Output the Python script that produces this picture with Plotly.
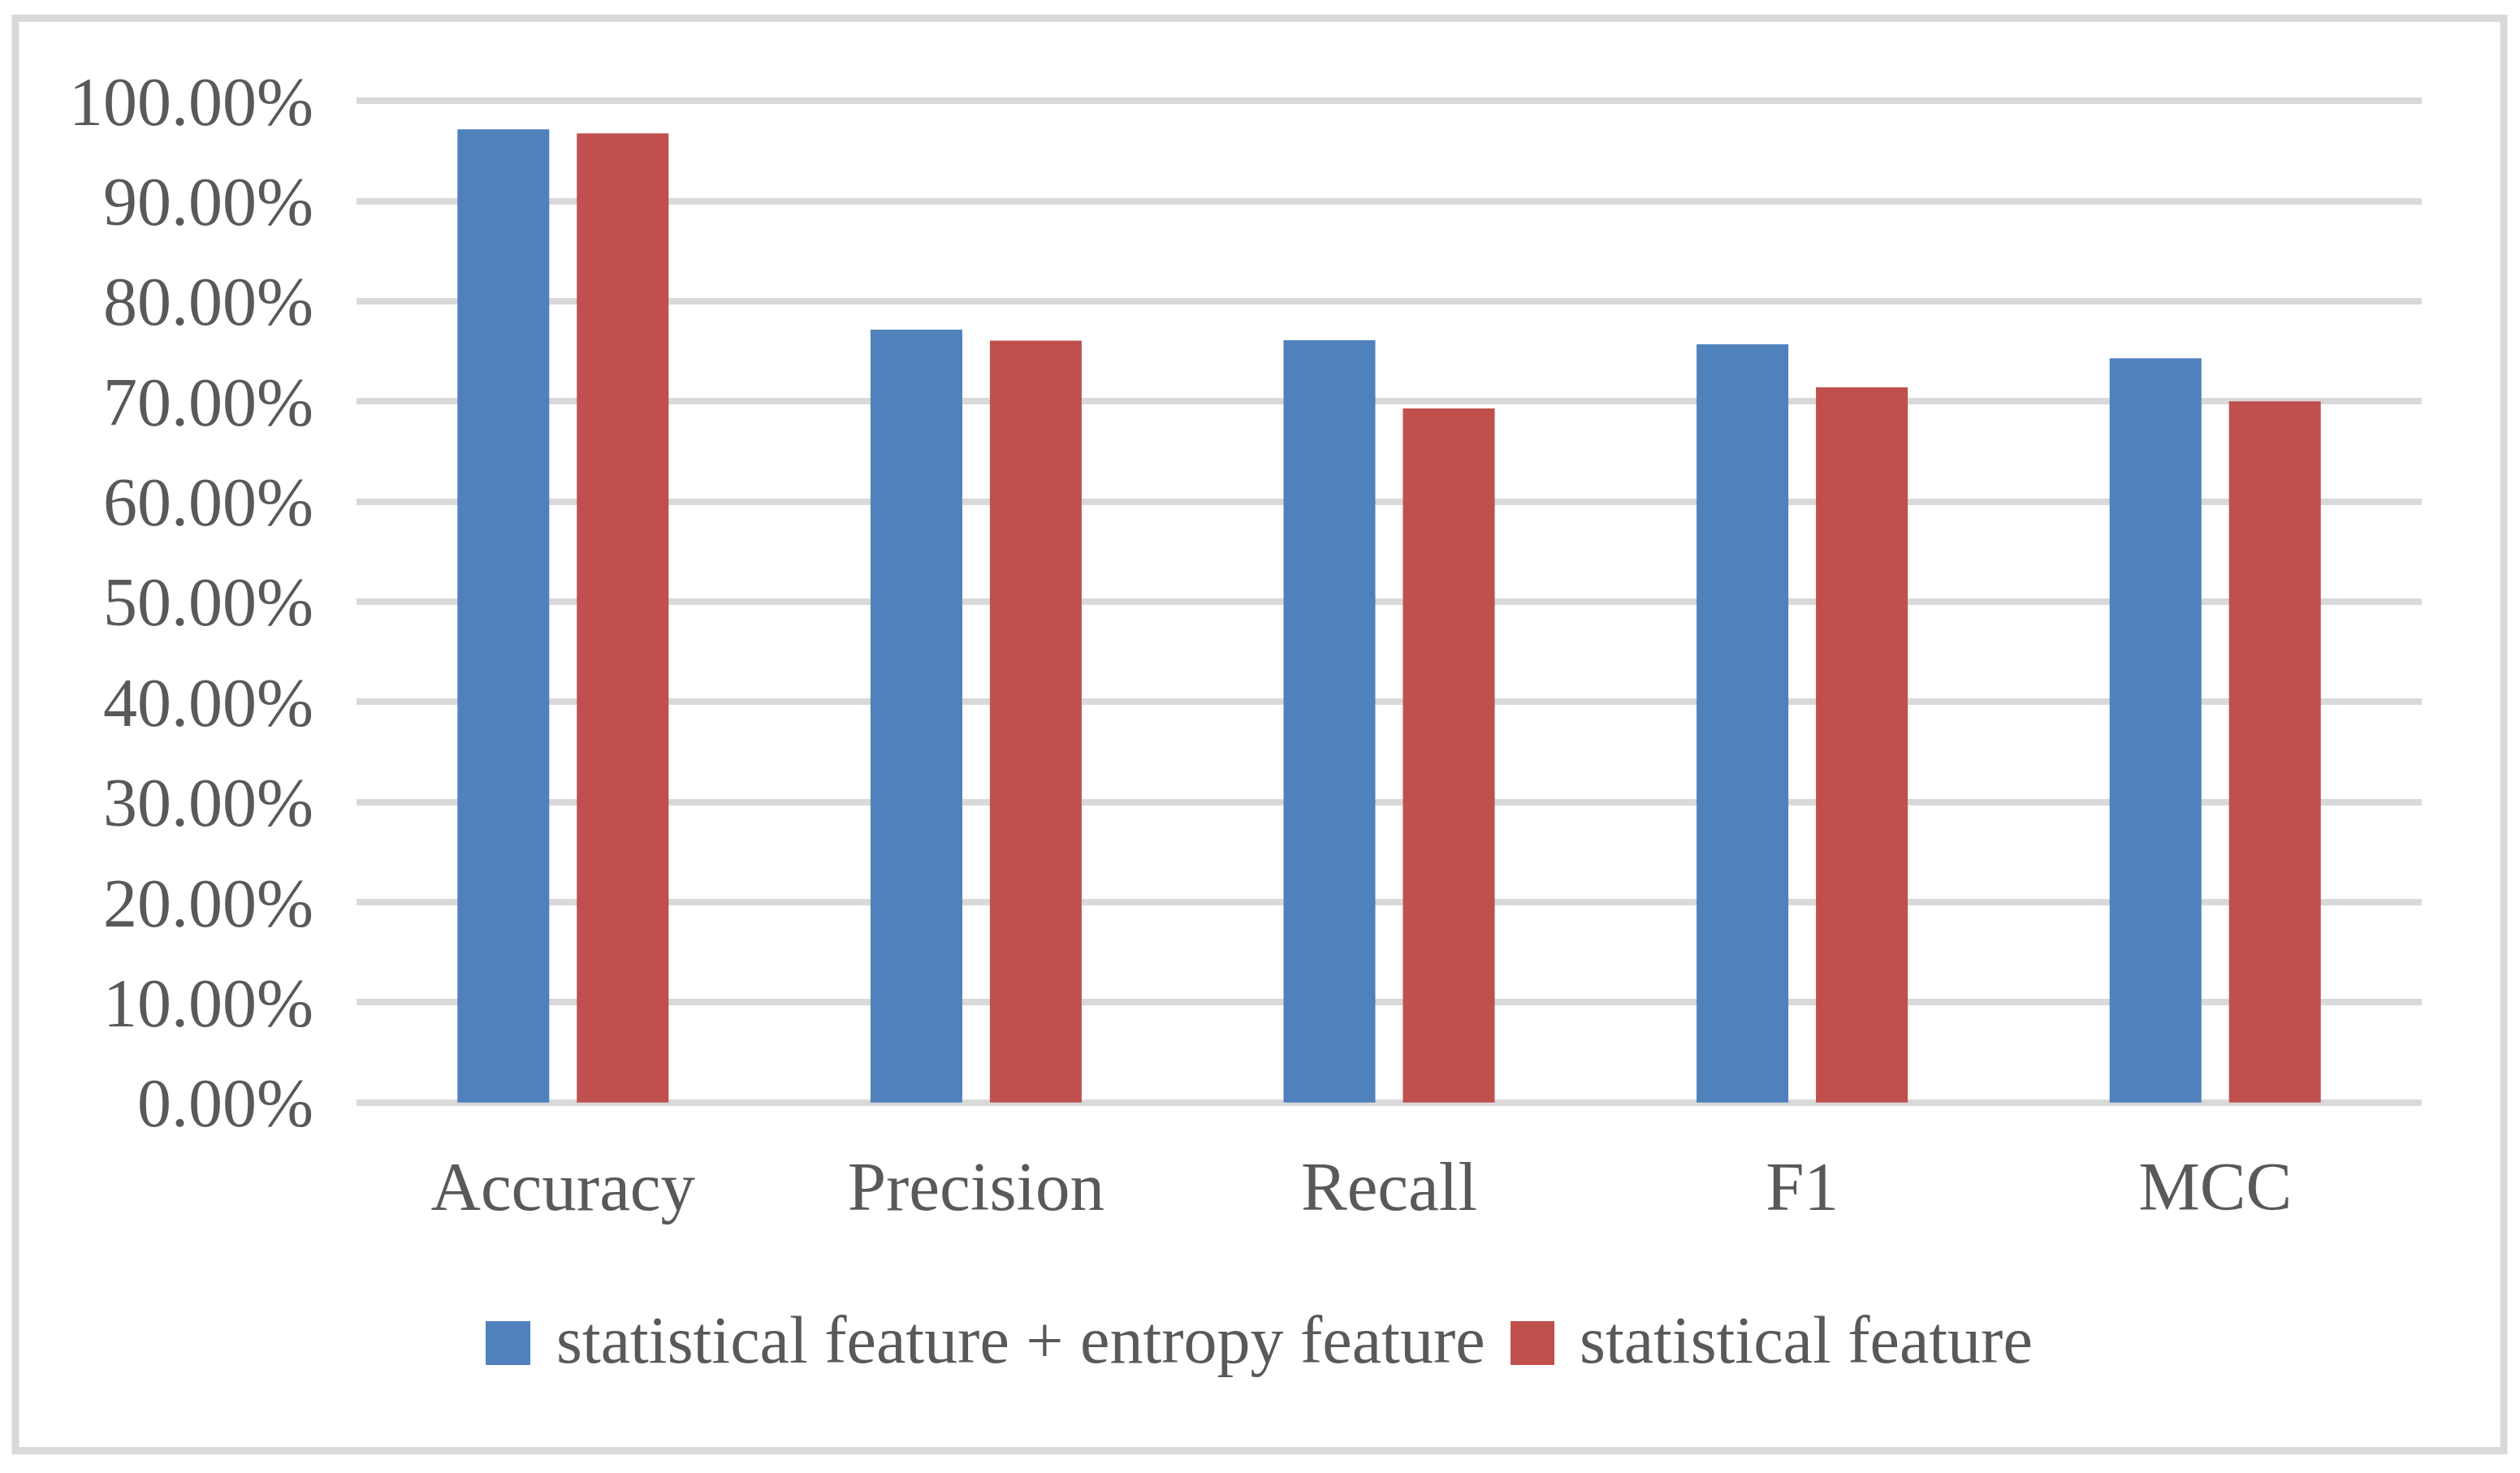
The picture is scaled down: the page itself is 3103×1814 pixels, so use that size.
import plotly.graph_objects as go

categories = ["Accuracy", "Precision", "Recall", "F1", "MCC"]
series_names = ["statistical feature + entropy feature", "statistical feature"]
combined_values = [0.9716, 0.7715, 0.761, 0.757, 0.743]
statistical_values = [0.9676, 0.7607, 0.693, 0.714, 0.700]
colors = ["#4F81BD", "#C0504D"]
y_ticks = [0.0, 0.1, 0.2, 0.3, 0.4, 0.5, 0.6, 0.7, 0.8, 0.9, 1.0]

OFF = 8  # page body margin
W, H = 3103 - OFF, 1814 - OFF
L, R = 439 - OFF, 2982 - OFF
T, B = 118 - OFF, 1364 - OFF
FONT = "Liberation Serif, Times New Roman, serif"
TXT = "#595959"
GRID = "#D9D9D9"


def px_x(p):
    return (p - OFF - L) / (R - L)


def px_y(p):
    return (B - (p - OFF)) / (B - T)


fig = go.Figure()
for name, vals, col in zip(series_names, [combined_values, statistical_values], colors):
    fig.add_trace(go.Bar(x=categories, y=vals, name=name, marker_color=col,
                         marker_line_width=0, showlegend=False))

fig.update_layout(
    width=W, height=H,
    margin=dict(l=L, r=W - R, t=T, b=H - B, autoexpand=False),
    paper_bgcolor="white", plot_bgcolor="white",
    barmode="group", bargap=0.422, bargroupgap=0.231,
    font=dict(family=FONT, size=82, color=TXT),
    showlegend=False,
)
fig.update_yaxes(range=[-0.005, 1.005], tickvals=y_ticks, tickformat=".2%",
                 showgrid=True, gridcolor=GRID, gridwidth=8,
                 zeroline=True, zerolinecolor=GRID, zerolinewidth=8,
                 showline=False, ticks="", ticklabelstandoff=52,
                 tickfont=dict(family=FONT, size=84, color=TXT))
fig.update_xaxes(showgrid=False, showline=False, zeroline=False, ticks="",
                 ticklabelstandoff=40,
                 tickfont=dict(family=FONT, size=85, color=TXT))

# outer chart frame
fig.add_shape(type="rect", xref="paper", yref="paper",
              x0=px_x(19), x1=px_x(3083), y0=px_y(1786.5), y1=px_y(22.5),
              line=dict(color=GRID, width=9), fillcolor="rgba(0,0,0,0)", layer="below")

# legend (drawn manually to match the large square keys)
legend_items = [(598, 653, 683), (1860, 1914, 1943)]
for (sx0, sx1, tx), name, col in zip(legend_items, series_names, colors):
    fig.add_shape(type="rect", xref="paper", yref="paper",
                  x0=px_x(sx0), x1=px_x(sx1), y0=px_y(1681), y1=px_y(1627),
                  line=dict(width=0), fillcolor=col)
    fig.add_annotation(xref="paper", yref="paper", x=px_x(tx), y=px_y(1650),
                       xanchor="left", yanchor="middle", text=name, showarrow=False,
                       font=dict(family=FONT, size=82, color=TXT))

fig.write_html("out.html")
